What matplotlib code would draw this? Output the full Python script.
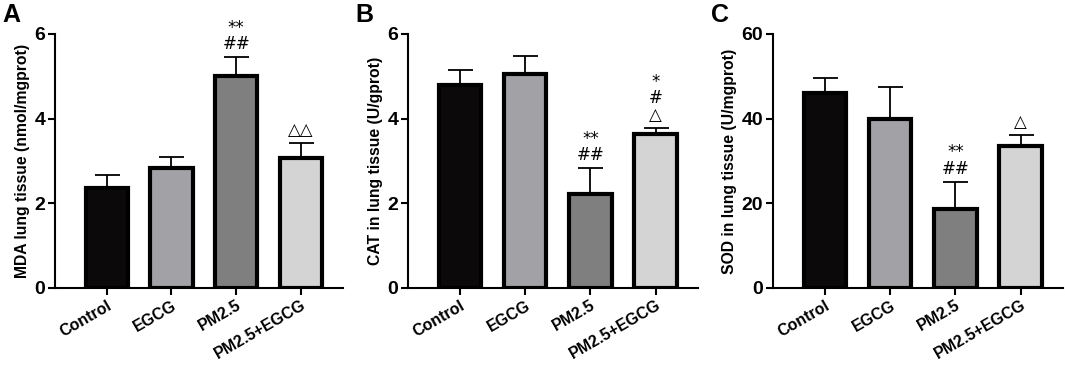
import numpy as np
import matplotlib.pyplot as plt

plt.rcParams['font.family'] = ['Liberation Sans', 'DejaVu Sans']

groups = ['Control', 'EGCG', 'PM2.5', 'PM2.5+EGCG']
colors = ['#0b0909', '#a2a2a6', '#7f7f7f', '#d4d4d4']

mda_mean = [2.37, 2.83, 5.01, 3.07]
mda_err = [0.30, 0.27, 0.44, 0.36]
cat_mean = [4.80, 5.06, 2.21, 3.64]
cat_err = [0.35, 0.42, 0.62, 0.15]
sod_mean = [46.0, 39.9, 18.6, 33.6]
sod_err = [3.7, 7.5, 6.5, 2.6]

mda_marks = ['', '', '**\n##', '\u25b3\u25b3']
cat_marks = ['', '', '**\n##', '*\n#\n\u25b3']
sod_marks = ['', '', '**\n##', '\u25b3']

panels = [
    ('A', mda_mean, mda_err, mda_marks, 'MDA lung tissue (nmol/mgprot)', 6, [0, 2, 4, 6]),
    ('B', cat_mean, cat_err, cat_marks, 'CAT in lung tissue (U/gprot)', 6, [0, 2, 4, 6]),
    ('C', sod_mean, sod_err, sod_marks, 'SOD in lung tissue (U/mgprot)', 60, [0, 20, 40, 60]),
]

fig = plt.figure(figsize=(10.65, 3.66), dpi=100)
W, H = 1065, 366
ax_left = [55, 408, 773]
ax_right = [343, 698, 1063]
ax_top, ax_bot = 34, 288
lab_x = [2, 355, 711]

for i, (lab, mean, err, marks, ylabel, ymax, yticks) in enumerate(panels):
    ax = fig.add_axes([ax_left[i] / W, 1 - ax_bot / H,
                       (ax_right[i] - ax_left[i]) / W, (ax_bot - ax_top) / H])
    x = np.arange(len(groups))
    ax.bar(x, mean, width=0.65, color=colors, edgecolor='black', linewidth=3, zorder=3)
    ax.errorbar(x, mean, yerr=[np.zeros(len(err)), err], fmt='none', ecolor='black',
                elinewidth=1.3, capsize=9, capthick=1.3, zorder=2)
    for xi, m, e, t in zip(x, mean, err, marks):
        if t:
            ax.text(xi, m + e + ymax * 0.015, t, ha='center', va='bottom',
                    fontsize=12, linespacing=0.9, family=['DejaVu Sans'])
    ax.set_xlim(-0.8, 3.65)
    ax.set_ylim(0, ymax)
    ax.set_yticks(yticks)
    ax.set_xticks(x)
    ax.set_xticklabels(groups, rotation=30, ha='right', rotation_mode='anchor',
                       fontsize=11.5, fontweight='bold')
    for t in ax.get_yticklabels():
        t.set_fontsize(14)
        t.set_fontweight('bold')
    ax.set_ylabel(ylabel, fontsize=11.3, fontweight='bold', labelpad=3)
    ax.spines['top'].set_visible(False)
    ax.spines['right'].set_visible(False)
    ax.spines['left'].set_linewidth(1.5)
    ax.spines['bottom'].set_linewidth(1.5)
    ax.tick_params(direction='out', length=5, width=1.5, pad=2)
    fig.text(lab_x[i] / W, 1 - 3 / H, lab, fontsize=18, fontweight='bold', va='top', ha='left')

fig.savefig('out.png', dpi=100)
